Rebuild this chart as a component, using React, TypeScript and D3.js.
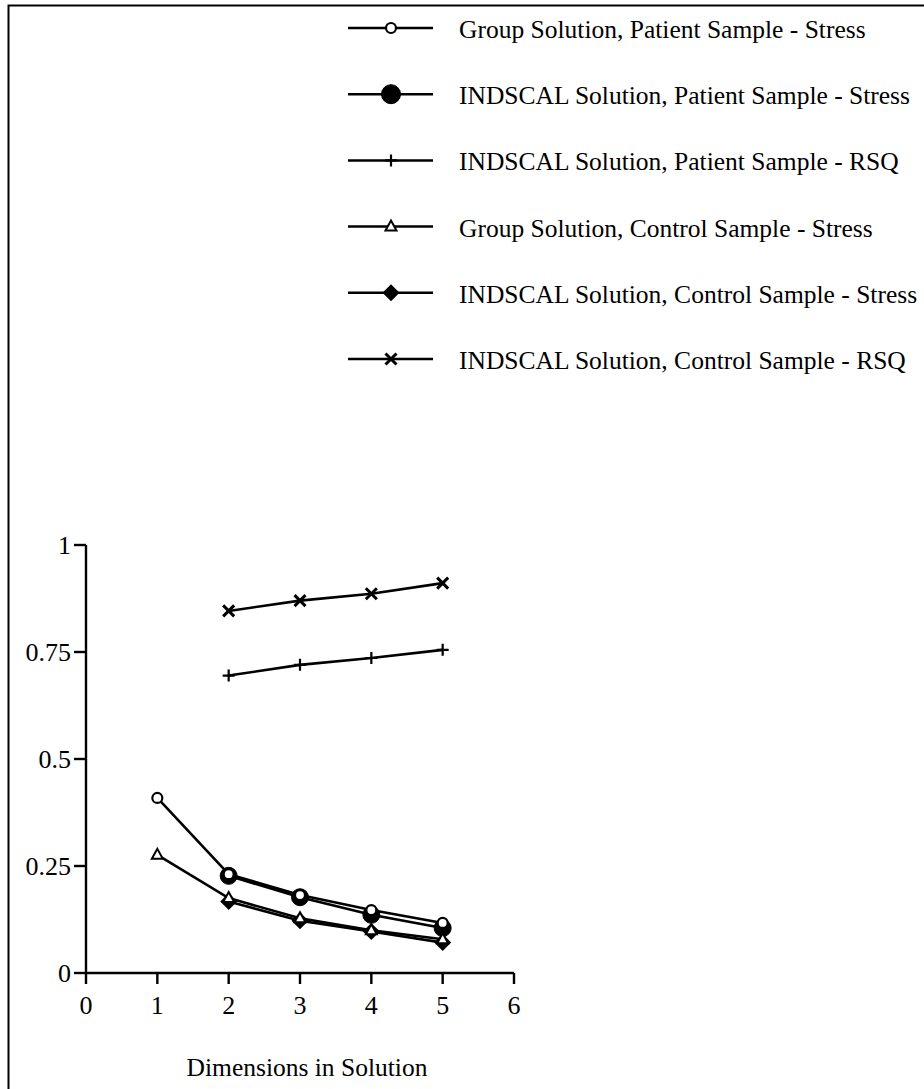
import React from "react";
import * as d3 from "d3";

const dims = [1, 2, 3, 4, 5];
const xTicks = [0, 1, 2, 3, 4, 5, 6];
const yTicks = [0, 0.25, 0.5, 0.75, 1];
const yTickLabels = ["0", "0.25", "0.5", "0.75", "1"];

const groupPatientStress = [0.409, 0.231, 0.182, 0.147, 0.117];
const indscalPatientStress = [null, 0.227, 0.177, 0.136, 0.105];
const indscalPatientRSQ = [null, 0.695, 0.72, 0.736, 0.755];
const groupControlStress = [0.276, 0.175, 0.128, 0.1, 0.079];
const indscalControlStress = [null, 0.167, 0.122, 0.097, 0.071];
const indscalControlRSQ = [null, 0.846, 0.87, 0.886, 0.911];

type Mk = "open" | "filled" | "plus" | "tri" | "diamond" | "x";

const seriesList: { name: string; values: (number | null)[]; marker: Mk }[] = [
  { name: "Group Solution, Patient Sample - Stress", values: groupPatientStress, marker: "open" },
  { name: "INDSCAL Solution, Patient Sample - Stress", values: indscalPatientStress, marker: "filled" },
  { name: "INDSCAL Solution, Patient Sample - RSQ", values: indscalPatientRSQ, marker: "plus" },
  { name: "Group Solution, Control Sample - Stress", values: groupControlStress, marker: "tri" },
  { name: "INDSCAL Solution, Control Sample - Stress", values: indscalControlStress, marker: "diamond" },
  { name: "INDSCAL Solution, Control Sample - RSQ", values: indscalControlRSQ, marker: "x" },
];

const drawOrder = [4, 1, 3, 0, 2, 5];

const FONT = "Liberation Serif, Times New Roman, DejaVu Serif, serif";
const textStyle: React.CSSProperties = { fontFamily: FONT };

function Marker({ type, cx, cy, legend }: { type: Mk; cx: number; cy: number; legend?: boolean }) {
  switch (type) {
    case "open":
      return <circle cx={cx} cy={cy} r={5} fill="#fff" stroke="#000" strokeWidth={2.2} />;
    case "filled":
      return <circle cx={cx} cy={cy} r={legend ? 9.5 : 8.5} fill="#000" stroke="#000" strokeWidth={1} />;
    case "plus":
      return (
        <path d={`M${cx - 6},${cy}H${cx + 6}M${cx},${cy - 6}V${cy + 6}`} stroke="#000" strokeWidth={2.2} fill="none" />
      );
    case "tri":
      return (
        <path
          d={`M${cx},${cy - 6}L${cx + 5.5},${cy + 4}L${cx - 5.5},${cy + 4}Z`}
          fill="#fff"
          stroke="#000"
          strokeWidth={2}
          strokeLinejoin="miter"
        />
      );
    case "diamond":
      return <path d={`M${cx},${cy - 8.5}L${cx + 8.5},${cy}L${cx},${cy + 8.5}L${cx - 8.5},${cy}Z`} fill="#000" />;
    case "x":
      return (
        <path
          d={`M${cx - 5.5},${cy - 5.5}L${cx + 5.5},${cy + 5.5}M${cx - 5.5},${cy + 5.5}L${cx + 5.5},${cy - 5.5}`}
          stroke="#000"
          strokeWidth={3}
          fill="none"
        />
      );
  }
  return null;
}

export default function App() {
  const W = 924;
  const H = 1089;
  const x = d3.scaleLinear().domain([0, 6]).range([86, 514]);
  const y = d3.scaleLinear().domain([0, 1]).range([973, 545]);

  const line = d3
    .line<number | null>()
    .defined((d) => d !== null)
    .x((_, i) => x(dims[i]))
    .y((d) => y(d as number));

  const legX1 = 348;
  const legX2 = 433;
  const legMarkX = 391;
  const legTextX = 459;
  const legY0 = 28;
  const legDy = 66.2;

  return (
    <svg width={W} height={H} style={{ position: "absolute", left: 0, top: 0, background: "#fff" }}>
      <rect x={0} y={0} width={W} height={H} fill="#fff" />
      {/* frame */}
      <path d={`M8.5,${H + 5}V5.5H${W + 5}`} fill="none" stroke="#000" strokeWidth={2} />

      {/* legend */}
      {seriesList.map((s, i) => {
        const cy = legY0 + i * legDy;
        return (
          <g key={s.name}>
            <line x1={legX1} x2={legX2} y1={cy} y2={cy} stroke="#000" strokeWidth={2.5} />
            <Marker type={s.marker} cx={legMarkX} cy={cy} legend />
            <text x={legTextX} y={cy + 10} fontSize={25.5} fill="#000" style={textStyle}>
              {s.name}
            </text>
          </g>
        );
      })}

      {/* axes */}
      <line x1={x(0)} x2={x(0)} y1={y(1)} y2={y(0)} stroke="#000" strokeWidth={2.4} />
      <line x1={x(0)} x2={x(6)} y1={y(0)} y2={y(0)} stroke="#000" strokeWidth={2.4} />
      {yTicks.map((t, i) => (
        <g key={"yt" + t}>
          <line x1={x(0) - 12} x2={x(0)} y1={y(t)} y2={y(t)} stroke="#000" strokeWidth={2.4} />
          <text x={71} y={y(t) + 8.5} fontSize={26} textAnchor="end" fill="#000" style={textStyle}>
            {yTickLabels[i]}
          </text>
        </g>
      ))}
      {xTicks.map((t) => (
        <g key={"xt" + t}>
          <line x1={x(t)} x2={x(t)} y1={y(0)} y2={y(0) + 11} stroke="#000" strokeWidth={2.4} />
          <text x={x(t)} y={1014} fontSize={26} textAnchor="middle" fill="#000" style={textStyle}>
            {t}
          </text>
        </g>
      ))}
      <text x={307} y={1076} fontSize={25.5} textAnchor="middle" fill="#000" style={textStyle}>
        Dimensions in Solution
      </text>

      {/* series lines */}
      {drawOrder.map((si) => {
        const s = seriesList[si];
        return (
          <g key={"s" + si}>
            <path d={line(s.values) || ""} fill="none" stroke="#000" strokeWidth={2.6} />
          </g>
        );
      })}
      {drawOrder.map((si) => {
        const s = seriesList[si];
        return (
          <g key={"m" + si}>
            {s.values.map((v, i) =>
              v === null ? null : <Marker key={i} type={s.marker} cx={x(dims[i])} cy={y(v)} />
            )}
          </g>
        );
      })}
    </svg>
  );
}
